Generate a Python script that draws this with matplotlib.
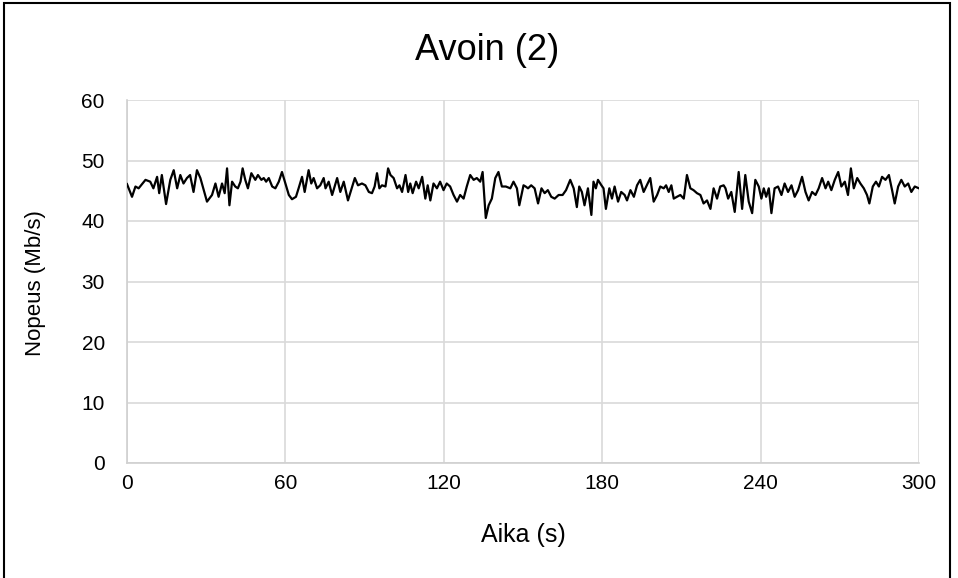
import matplotlib
matplotlib.use("Agg")
import matplotlib.pyplot as plt
from matplotlib.patches import Rectangle

plt.rcParams['font.family'] = ['Liberation Sans', 'DejaVu Sans']

title = "Avoin (2)"
x_label = "Aika (s)"
y_label = "Nopeus (Mb/s)"
x_ticks = [0, 60, 120, 180, 240, 300]
y_ticks = [0, 10, 20, 30, 40, 50, 60]

time_s = [
    0, 1.9, 3.2, 4.4, 7, 8.8, 10, 11.4, 12.2, 13.2, 14.8, 16.4, 17.7, 19, 20.2, 21.4,
    22.7, 23.9, 25.2, 26.5, 27.8, 30.3, 32.2, 33.5, 34.7, 36, 37, 37.9, 38.8, 39.8,
    41, 42, 43, 43.8, 44.8, 45.8, 47.1, 48.6, 49.6, 50.9, 51.8, 52.7, 53.7, 55, 56.2,
    57.5, 58.7, 60, 61.3, 62.5, 64, 65, 66.3, 67.3, 68.8, 69.8, 70.7, 72, 73.2, 74.5,
    75.2, 76.4, 77.7, 79.6, 80.8, 82.1, 83.7, 85.3, 86.3, 87.5, 89, 90.3, 91.6, 92.8,
    93.8, 94.7, 95.6, 96.6, 97.9, 98.9, 99.8, 101, 102.3, 103.2, 104.2, 105.5, 106.5,
    107.3, 108.2, 109.5, 110.5, 111.8, 113, 113.9, 114.9, 116.1, 117.4, 118.6, 119.9,
    121.1, 122.4, 123.7, 125, 126.2, 127.5, 128.7, 130, 131.3, 132.5, 133.8, 134.7,
    135.9, 137, 138.2, 139.5, 140.7, 142, 143.5, 145.2, 146.4, 147.7, 148.6, 150.2,
    151, 151.9, 153.1, 154.4, 155.7, 157, 158.2, 159.4, 160.7, 162, 163.5, 165, 166.3,
    167.9, 169.2, 170.4, 171.3, 172.3, 173.3, 174.6, 175.9, 176.7, 177.6, 178.4, 179.7,
    180.5, 181.4, 182.7, 183.7, 184.7, 186, 187.2, 188.5, 189.4, 190.7, 192, 193.2,
    194.4, 195.7, 196.9, 198.2, 199.5, 200.8, 202, 203.3, 204.2, 205.2, 206.2, 207.1,
    208.3, 209.6, 210.9, 212.1, 213.4, 214.6, 215.9, 217.2, 218.4, 219.7, 221, 222.2,
    223.5, 224.7, 226, 226.7, 227.7, 228.9, 230.2, 231.7, 233, 234.2, 235.5, 236.8,
    238, 239.3, 240.3, 241.2, 242.1, 243.1, 244.1, 245.3, 246.6, 247.9, 249.1, 250.4,
    251.7, 252.9, 254.2, 255.7, 257, 258.2, 259.5, 260.8, 262, 263.3, 264.6, 265.6,
    266.8, 268.1, 269.4, 270.6, 271.9, 273.1, 274.2, 275.3, 276.6, 277.8, 279.1, 280.3,
    281.2, 282.5, 283.7, 284.8, 286, 287.3, 288.6, 289.8, 290.8, 292.1, 293.3, 294.6,
    295.9, 297.1, 298.4, 300,
]
speed_mbps = [
    46.1, 44.0, 45.7, 45.4, 46.8, 46.5, 45.4, 47.3, 44.6, 47.6, 42.8, 46.8, 48.4, 45.4, 47.6, 46.2,
    47.1, 47.6, 44.8, 48.4, 47.1, 43.2, 44.3, 46.2, 44.0, 46.2, 44.6, 48.7, 42.6, 46.5,
    45.7, 45.4, 46.5, 48.7, 46.8, 45.4, 47.9, 46.8, 47.6, 46.8, 47.1, 46.5, 47.1, 45.7, 45.4,
    46.5, 48.1, 46.2, 44.3, 43.6, 44.0, 45.4, 47.3, 44.8, 48.4, 46.2, 47.1, 45.4, 45.9, 47.1,
    45.4, 46.5, 44.3, 47.1, 44.8, 46.5, 43.4, 45.7, 47.1, 45.9, 46.2, 45.9, 44.8, 44.6,
    45.7, 47.9, 45.4, 45.9, 45.7, 48.7, 47.6, 47.1, 45.4, 45.9, 44.8, 47.6, 44.8,
    46.2, 44.6, 46.5, 45.4, 47.3, 43.7, 45.9, 43.4, 46.2, 45.4, 46.5, 45.1,
    46.2, 45.7, 44.3, 43.2, 44.3, 43.7, 45.7, 47.6, 46.8, 47.1, 46.5, 48.1,
    40.5, 42.6, 43.7, 47.1, 48.1, 45.7, 45.7, 45.4, 46.5, 45.4, 42.6, 45.9,
    45.7, 45.4, 45.9, 45.4, 42.9, 45.4, 44.6, 45.1, 44.0, 43.7, 44.3, 44.3, 45.1,
    46.8, 45.4, 42.3, 45.7, 44.8, 42.6, 45.4, 41.0, 46.5, 45.4, 46.8, 45.9,
    45.4, 42.0, 45.4, 43.7, 45.7, 43.2, 44.8, 44.3, 43.4, 45.1, 44.0, 45.9,
    46.8, 44.8, 45.9, 47.1, 43.2, 44.3, 45.7, 45.4, 45.9, 44.8, 45.9, 43.7,
    44.0, 44.3, 43.7, 47.6, 45.4, 45.1, 44.6, 44.3, 42.9, 43.4, 42.0, 45.4,
    43.7, 45.7, 45.9, 45.4, 43.7, 44.8, 41.5, 48.1, 42.0, 47.6, 43.2, 41.3,
    46.8, 45.7, 43.7, 45.4, 44.0, 45.4, 41.3, 45.4, 45.7, 44.3, 46.2, 44.8,
    45.9, 44.0, 45.1, 47.3, 44.8, 43.4, 44.8, 44.3, 45.4, 47.1, 45.4, 46.5,
    45.1, 46.8, 48.1, 45.7, 46.5, 44.3, 48.7, 45.4, 47.1, 46.2, 45.4, 44.3,
    42.9, 45.7, 46.5, 45.7, 47.3, 46.8, 47.6, 45.1, 42.9, 45.7, 46.8, 45.7,
    46.2, 44.8, 45.7, 45.4,
]

W, H = 958, 578
fig = plt.figure(figsize=(W / 100, H / 100), dpi=100)
fig.patch.set_facecolor('white')

# outer chart border
fig.patches.append(Rectangle((4 / W, -0.01), (950 - 4) / W, (575 + 6) / H,
                             transform=fig.transFigure, fill=False,
                             edgecolor='black', linewidth=1.5, zorder=10))

ax = fig.add_axes([127 / W, 1 - 463 / H, (919 - 127) / W, (463 - 100) / H])
ax.plot(time_s, speed_mbps, color='black', linewidth=1.6, zorder=3)

ax.set_xlim(0, 300)
ax.set_ylim(0, 60)
ax.set_xticks(x_ticks)
ax.set_yticks(y_ticks)
ax.tick_params(axis='both', length=0, labelsize=15, colors='black')
ax.tick_params(axis='y', pad=16)
ax.tick_params(axis='x', pad=8)
ax.grid(True, color='#d9d9d9', linewidth=1.2, zorder=0)
ax.set_axisbelow(True)
for side in ['top', 'right']:
    ax.spines[side].set_visible(False)
ax.spines['left'].set_color('#d0d0d0')
ax.spines['bottom'].set_color('#d0d0d0')
ax.spines['left'].set_linewidth(1.2)
ax.spines['bottom'].set_linewidth(1.2)

fig.text(523 / W, 1 - 535 / H, x_label, ha='center', va='center', fontsize=18)
fig.text(36 / W, 1 - 283 / H, y_label, ha='center', va='center', rotation=90, fontsize=16)
fig.text(487 / W, 1 - 50 / H, title, ha='center', va='center', fontsize=26)

fig.savefig('out.png', dpi=100)
